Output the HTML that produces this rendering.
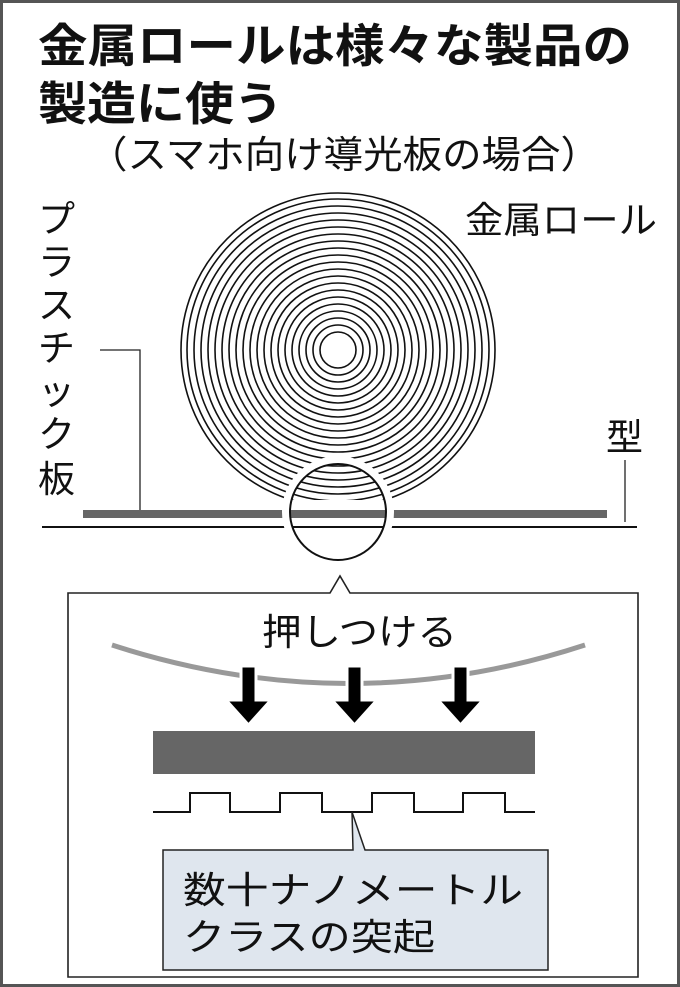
<!DOCTYPE html>
<html><head><meta charset="utf-8"><style>
html,body{margin:0;padding:0;background:#fff}
svg{display:block}
text{font-family:"Liberation Sans","Noto Sans CJK JP",sans-serif;fill:#111}
</style></head><body>
<svg width="680" height="987" viewBox="0 0 680 987" xmlns="http://www.w3.org/2000/svg">
<rect x="1.5" y="1.5" width="677" height="984" fill="#fff" stroke="#555" stroke-width="3"/>
<text x="38" y="62" font-size="46" font-weight="bold" textLength="594" lengthAdjust="spacingAndGlyphs">金属ロールは様々な製品の</text>
<text x="38" y="120" font-size="46" font-weight="bold" textLength="245" lengthAdjust="spacingAndGlyphs">製造に使う</text>
<text x="88" y="168" font-size="38" textLength="512" lengthAdjust="spacingAndGlyphs">（スマホ向け導光板の場合）</text>
<text x="465" y="233" font-size="37" textLength="192" lengthAdjust="spacingAndGlyphs">金属ロール</text>
<g font-size="37">
<text x="38" y="232">プ</text><text x="38" y="275">ラ</text><text x="38" y="318">ス</text>
<text x="38" y="361">チ</text><text x="38" y="404">ッ</text><text x="38" y="447">ク</text><text x="38" y="492">板</text>
</g>
<text x="606" y="450" font-size="37">型</text>
<polyline points="100,350 140,350 140,510" fill="none" stroke="#222" stroke-width="1.3"/>
<line x1="625" y1="460" x2="625" y2="522" stroke="#222" stroke-width="1.3"/>
<defs><clipPath id="c"><rect x="0" y="0" width="680" height="500"/></clipPath></defs>
<g fill="none" stroke="#111" stroke-width="1.6" clip-path="url(#c)">
<circle cx="338" cy="350" r="18"/><circle cx="338" cy="350" r="25"/><circle cx="338" cy="350" r="32"/>
<circle cx="338" cy="350" r="39"/><circle cx="338" cy="350" r="46"/><circle cx="338" cy="350" r="53"/>
<circle cx="338" cy="350" r="60"/><circle cx="338" cy="350" r="67"/><circle cx="338" cy="350" r="74"/>
<circle cx="338" cy="350" r="81"/><circle cx="338" cy="350" r="88"/><circle cx="338" cy="350" r="95"/>
<circle cx="338" cy="350" r="102"/><circle cx="338" cy="350" r="109"/><circle cx="338" cy="350" r="116"/>
<circle cx="338" cy="350" r="123"/><circle cx="338" cy="350" r="130"/><circle cx="338" cy="350" r="137"/>
<circle cx="338" cy="350" r="144"/><circle cx="338" cy="350" r="151"/><circle cx="338" cy="350" r="157"/>
</g>
<rect x="83" y="510" width="524" height="8" fill="#666"/>
<line x1="42" y1="527" x2="637" y2="527" stroke="#111" stroke-width="2"/>
<circle cx="338" cy="512" r="52" fill="none" stroke="#fff" stroke-width="8"/>
<circle cx="338" cy="512" r="48" fill="none" stroke="#111" stroke-width="2"/>
<path d="M68,593 H330 L340,576 L350,593 H638 V977 H68 Z" fill="#fff" stroke="#222" stroke-width="1.6"/>
<text x="262" y="645" font-size="37" textLength="195" lengthAdjust="spacingAndGlyphs">押しつける</text>
<path d="M112,645 Q350,722 585,645" fill="none" stroke="#999" stroke-width="5"/>
<g fill="#000" stroke="#fff" stroke-width="3">
<path d="M241,666 h15 v34 h15 l-22.5,25 l-22.5,-25 h15 z"/>
<path d="M347,666 h15 v34 h15 l-22.5,25 l-22.5,-25 h15 z"/>
<path d="M453,666 h15 v34 h15 l-22.5,25 l-22.5,-25 h15 z"/>
</g>
<rect x="153" y="731" width="382" height="43" fill="#666"/>
<polyline points="153,812 190,812 190,793 230,793 230,812 280,812 280,793 322,793 322,812 372,812 372,793 414,793 414,812 463,812 463,793 505,793 505,812 535,812" fill="none" stroke="#111" stroke-width="2"/>
<path d="M163,850 H353 L352,812 L365,850 H548 V970 H163 Z" fill="#dfe6ee" stroke="#222" stroke-width="1.5"/>
<text x="183" y="903" font-size="37" textLength="340" lengthAdjust="spacingAndGlyphs">数十ナノメートル</text>
<text x="183" y="950" font-size="37" textLength="252" lengthAdjust="spacingAndGlyphs">クラスの突起</text>
</svg>
</body></html>
